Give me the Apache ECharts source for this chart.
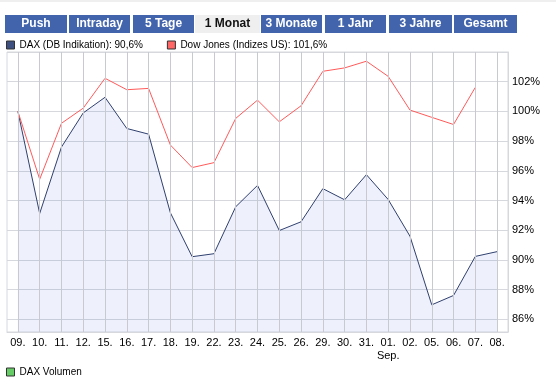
<!DOCTYPE html>
<html>
<head>
<meta charset="utf-8">
<script src="https://cdn.jsdelivr.net/npm/echarts@6/dist/echarts.min.js"></script>
<style>
  html, body { margin: 0; padding: 0; background: #fff; }
  #chart { width: 556px; height: 377px; }
</style>
</head>
<body>
<div id="chart"></div>
<script>
// Handelstage (August / September)
const days = ['09.', '10.', '11.', '12.', '15.', '16.', '17.', '18.', '19.', '22.', '23.', '24.',
  '25.', '26.', '29.', '30.', '31.', '01.', '02.', '05.', '06.', '07.', '08.']
const monthMarks = { '01.': 'Sep.' }

// Wertentwicklung in %
const dax = [100.0, 93.13, 97.6, 99.9, 100.95, 98.85, 98.47, 93.18, 90.22, 90.42, 93.58, 95.02,
  91.98, 92.57, 94.8, 94.05, 95.74, 94.07, 91.6, 86.98, 87.61, 90.24, 90.56]
const dow = [100.0, 95.43, 99.2, 100.22, 102.23, 101.46, 101.55, 97.74, 96.22, 96.55, 99.53, 100.76,
  99.3, 100.38, 102.7, 102.93, 103.38, 102.36, 100.09, 99.6, 99.12, 101.62, null]

const yTicks = [86, 88, 90, 92, 94, 96, 98, 100, 102]

const tabs = ['Push', 'Intraday', '5 Tage', '1 Monat', '3 Monate', '1 Jahr', '3 Jahre', 'Gesamt']
const activeTab = '1 Monat'

const seriesNames = ['DAX (DB Indikation)', 'Dow Jones (Indizes US)']

function lastVal (arr) {
  let v = arr.filter(x => x !== null)
  return v[v.length - 1].toFixed(1).replace('.', ',') + '%'
}
const legendText = {}
legendText[seriesNames[0]] = seriesNames[0] + ': ' + lastVal(dax)
legendText[seriesNames[1]] = seriesNames[1] + ': ' + lastVal(dow)

const font = 'Liberation Sans'
const gridColor = '#d6d8dd'
const tabX = [5, 69, 133, 195, 261, 325, 389, 454]
const tabW = [62, 61, 61, 65, 61, 61, 63, 63]

let tabGraphics = tabs.map((t, i) => ({
  type: 'group',
  left: tabX[i],
  top: 15,
  children: [{
    type: 'rect',
    shape: { x: 0, y: 0, width: tabW[i], height: 18 },
    style: { fill: t === activeTab ? '#efefef' : '#4264ad' }
  }, {
    type: 'text',
    x: tabW[i] / 2,
    y: 9,
    style: {
      text: t,
      align: 'center',
      verticalAlign: 'middle',
      textAlign: 'center',
      textVerticalAlign: 'middle',
      font: 'bold 12px "' + font + '"',
      fill: t === activeTab ? '#111' : '#fff'
    }
  }]
}))

let myChart = echarts.init(document.getElementById('chart'))
myChart.setOption({
  animation: false,
  graphic: [{
    type: 'rect',
    left: 0,
    top: 0,
    shape: { width: 556, height: 2 },
    style: { fill: '#efefef' }
  }].concat(tabGraphics),
  legend: [{
    data: seriesNames,
    left: 6,
    top: 40,
    icon: 'rect',
    itemWidth: 8,
    itemHeight: 8,
    itemGap: 24,
    padding: 0,
    itemStyle: { borderColor: '#333', borderWidth: 1 },
    textStyle: { fontFamily: font, fontSize: 10, color: '#000' },
    formatter: name => legendText[name]
  }, {
    data: ['DAX Volumen'],
    left: 6,
    top: 367,
    icon: 'rect',
    itemWidth: 8,
    itemHeight: 8,
    padding: 0,
    itemStyle: { borderColor: '#333', borderWidth: 1 },
    textStyle: { fontFamily: font, fontSize: 10, color: '#000' }
  }],
  grid: {
    show: true,
    left: 7,
    right: 48,
    top: 52,
    bottom: 45,
    borderColor: gridColor,
    borderWidth: 1
  },
  xAxis: {
    type: 'category',
    data: days,
    boundaryGap: true,
    axisLine: { lineStyle: { color: gridColor } },
    axisTick: { show: false, alignWithLabel: true },
    splitLine: {
      show: true,
      interval: 0,
      alignWithLabel: true,
      lineStyle: { color: '#c8cad0', width: 1 }
    },
    axisLabel: {
      interval: 0,
      margin: 4,
      fontFamily: font,
      fontSize: 11,
      lineHeight: 13,
      color: '#000',
      formatter: v => monthMarks[v] ? v + '\n' + monthMarks[v] : v
    }
  },
  yAxis: {
    type: 'value',
    position: 'right',
    min: 85.15,
    max: 104,
    splitNumber: 9,
    axisLine: { show: true, lineStyle: { color: gridColor } },
    axisTick: { show: false },
    splitLine: { lineStyle: { color: gridColor } },
    axisLabel: {
      margin: 4,
      fontFamily: font,
      fontSize: 11,
      color: '#000',
      showMinLabel: false,
      showMaxLabel: false,
      formatter: v => yTicks.some(t => Math.abs(t - v) < 0.001) ? Math.round(v) + '%' : ''
    }
  },
  series: [{
    name: seriesNames[0],
    type: 'line',
    data: dax,
    symbol: 'none',
    z: 3,
    color: '#3d5080',
    lineStyle: { color: '#2f3f6e', width: 1 },
    areaStyle: { color: 'rgba(70, 100, 210, 0.09)', opacity: 1, origin: 'start' },
    // vertikale Gitterlinien auf jedem Handelstag
    markLine: {
      silent: true,
      symbol: ['none', 'none'],
      animation: false,
      label: { show: false },
      lineStyle: { color: '#c8cad0', type: 'solid', width: 1, opacity: 1 },
      data: days.map(d => ({ xAxis: d }))
    }
  }, {
    name: seriesNames[1],
    type: 'line',
    data: dow,
    symbol: 'none',
    z: 4,
    color: '#ff6666',
    lineStyle: { color: '#ff5a5a', width: 1 }
  }, {
    name: 'DAX Volumen',
    type: 'bar',
    data: [],
    color: '#66cc66'
  }]
})
</script>
</body>
</html>
